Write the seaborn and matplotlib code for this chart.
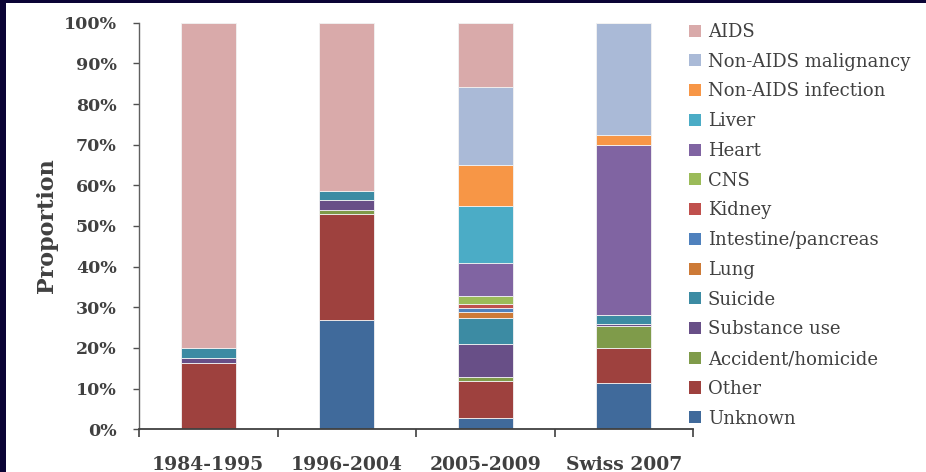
import matplotlib
matplotlib.use("Agg")
import matplotlib.pyplot as plt
from matplotlib.patches import Patch, Rectangle
from matplotlib.ticker import FuncFormatter, FixedLocator
import seaborn as sns
import pandas as pd

periods = ["1984-1995", "1996-2004", "2005-2009", "Swiss 2007"]
causes = ["AIDS", "Non-AIDS malignancy", "Non-AIDS infection", "Liver", "Heart",
          "CNS", "Kidney", "Intestine/pancreas", "Lung", "Suicide",
          "Substance use", "Accident/homicide", "Other", "Unknown"]

aids          = [80.0, 41.5, 15.9, 0.0]
na_malignancy = [0.0, 0.0, 19.0, 27.5]
na_infection  = [0.0, 0.0, 10.2, 2.7]
liver         = [0.0, 0.0, 14.0, 0.0]
heart         = [0.0, 0.0, 8.0, 41.7]
cns           = [0.0, 0.0, 2.0, 0.0]
kidney        = [0.0, 0.0, 1.0, 0.0]
intestine     = [0.0, 0.0, 1.0, 0.0]
lung          = [0.0, 0.0, 1.5, 0.0]
suicide       = [2.5, 2.2, 6.3, 2.2]
substance_use = [1.2, 2.3, 8.2, 0.6]
accident      = [0.0, 1.1, 1.0, 5.4]
other         = [16.3, 25.9, 9.0, 8.6]
unknown       = [0.0, 27.0, 2.9, 11.3]

series = [aids, na_malignancy, na_infection, liver, heart, cns, kidney,
          intestine, lung, suicide, substance_use, accident, other, unknown]

colors = ["#D9AAAA", "#AABAD7", "#F79646", "#4BACC6", "#8064A2", "#9BBB59",
          "#C0504D", "#4F81BD", "#CD7A37", "#3C8BA3", "#684F87", "#7F9B4A",
          "#9E413E", "#406A9B"]

rows = []
for cause, vals in zip(causes, series):
    for p, v in zip(periods, vals):
        rows.append({"period": p, "cause": cause, "value": v})
df = pd.DataFrame(rows)
df["period"] = pd.Categorical(df["period"], categories=periods, ordered=True)

sns.set_style("white")
plt.rcParams["font.family"] = ["DejaVu Serif"]
text_col = "#404040"

fig = plt.figure(figsize=(9.26, 4.72), dpi=100)
fig.patch.set_facecolor("white")
ax = fig.add_axes([139/926, 1 - 429.3/472, (693 - 139)/926, 406.6/472])

sns.histplot(data=df, x="period", weights="value", hue="cause",
             hue_order=causes, palette=colors, multiple="stack",
             discrete=True, shrink=0.4, alpha=1, edgecolor="#F2F2F2",
             linewidth=0.6, legend=False, ax=ax)

ax.set_xlim(-0.5, 3.5)
ax.set_ylim(0, 100)
ax.set_yticks(range(0, 101, 10))
ax.yaxis.set_major_formatter(FuncFormatter(lambda v, p: f"{int(v)}%"))
ax.set_xticks(range(len(periods)))
ax.set_xticklabels(periods)
ax.xaxis.set_minor_locator(FixedLocator([-0.5, 0.5, 1.5, 2.5, 3.5]))
ax.tick_params(axis="x", which="major", bottom=True, length=0, pad=19)
ax.tick_params(axis="x", which="minor", bottom=True, length=5.5, width=1.2,
               color="#404040", direction="out")
ax.tick_params(axis="y", which="major", left=True, length=4, width=1.0,
               color="#505050", direction="out", pad=12)
for lab in ax.get_xticklabels():
    lab.set_fontsize(13.5)
    lab.set_fontweight("bold")
    lab.set_color(text_col)
for lab in ax.get_yticklabels():
    lab.set_fontsize(12.5)
    lab.set_fontweight("bold")
    lab.set_color(text_col)

ax.set_xlabel("")
ax.set_ylabel("Proportion", fontsize=16, fontweight="bold", color=text_col, labelpad=4)

for s in ["top", "right"]:
    ax.spines[s].set_visible(False)
ax.spines["left"].set_color("#606060")
ax.spines["bottom"].set_color("#404040")
ax.spines["bottom"].set_linewidth(1.3)
ax.spines["left"].set_linewidth(1.0)

handles = [Patch(facecolor=c, edgecolor="none") for c in colors]
leg = fig.legend(handles, causes, loc="upper left", bbox_to_anchor=(689/926, 1 - 23/472),
                 frameon=False, fontsize=13, handlelength=0.65, handleheight=0.65,
                 handletextpad=0.4, labelspacing=0.65, borderpad=0, borderaxespad=0)
for t in leg.get_texts():
    t.set_color(text_col)

navy = "#0B0435"
fig.add_artist(Rectangle((0, 0), 6/926, 1, transform=fig.transFigure,
                         facecolor=navy, edgecolor="none", zorder=10))
fig.add_artist(Rectangle((0, 1 - 3/472), 1, 3/472, transform=fig.transFigure,
                         facecolor=navy, edgecolor="none", zorder=10))

fig.savefig("out.png", dpi=100)
